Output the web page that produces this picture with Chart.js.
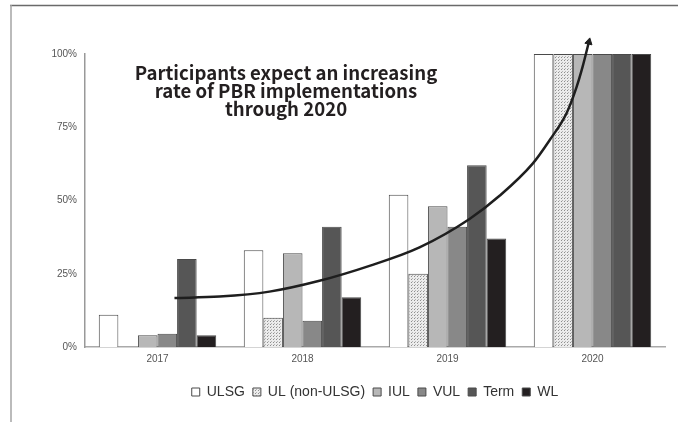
<!DOCTYPE html>
<html>
<head>
<meta charset="utf-8">
<script src="https://cdn.jsdelivr.net/npm/chart.js@4/dist/chart.umd.min.js"></script>
<style>
  html, body { margin: 0; padding: 0; background: #fff; }
  #wrap { width: 678px; height: 422px; position: relative; }
</style>
</head>
<body>
<div id="wrap"><canvas id="c"></canvas></div>
<script>
// Years on the horizontal axis
const years = ['2017', '2018', '2019', '2020'];

// Share of participants implementing PBR, per product (%)
const ulsg    = [11, 33, 52, 100];
const ulNon   = [0, 10, 25, 100];
const iul     = [4, 32, 48, 100];
const vul     = [4.5, 9, 41, 100];
const term    = [30, 41, 62, 100];
const wl      = [4, 17, 37, 100];

// Trend arrow path, in (year index, %) coordinates
const trendX = [0.117, 0.428, 0.772, 1.117, 1.462, 1.807, 2.152, 2.359, 2.586, 2.703, 2.821, 2.890, 2.931, 2.975];
const trendY = [16.7, 17.2, 18.9, 22.6, 27.7, 34.0, 43.7, 51.6, 62.5, 70.5, 79.8, 88.7, 95.5, 104.1];

const yTicks = [0, 25, 50, 75, 100];
const headline = ['Participants expect an increasing', 'rate of PBR implementations', 'through 2020'];

// Stippled fill for the UL (non-ULSG) series
function dotPattern() {
  const t = document.createElement('canvas');
  t.width = 3; t.height = 3;
  const g = t.getContext('2d');
  g.fillStyle = '#ececec';
  g.fillRect(0, 0, 3, 3);
  g.fillStyle = '#8e8e8e';
  g.fillRect(0, 0, 1, 1);
  g.fillStyle = '#b4b4b4';
  g.fillRect(1, 2, 1, 1);
  return g.createPattern(t, 'repeat');
}

const edge = '#4a4a4a';
function barSet(label, values, fill) {
  return {
    type: 'bar', label, order: 1,
    data: values.map((v, i) => ({ x: i, y: v })),
    backgroundColor: fill, borderColor: edge, borderWidth: 1,
    categoryPercentage: 0.81, barPercentage: 1.0
  };
}

const trendPts = trendX.map((x, i) => ({ x, y: trendY[i] }));
const last = trendPts.length - 1;

// Page frame and headline text
const decor = {
  id: 'decor',
  beforeDraw(chart) {
    const ctx = chart.ctx;
    ctx.save();
    ctx.fillStyle = '#fff';
    ctx.fillRect(0, 0, chart.width, chart.height);
    ctx.lineWidth = 1.5;
    ctx.strokeStyle = '#6a6a6a';
    ctx.beginPath(); ctx.moveTo(10, 5.5); ctx.lineTo(chart.width, 5.5); ctx.stroke();
    ctx.strokeStyle = '#a5a5a5';
    ctx.beginPath(); ctx.moveTo(11, 5); ctx.lineTo(11, chart.height); ctx.stroke();
    ctx.restore();
  },
  afterDraw(chart) {
    const ctx = chart.ctx;
    const a = chart.chartArea;
    ctx.save();
    ctx.fillStyle = '#231f20';
    ctx.font = 'bold 18.6px "Noto Sans CJK SC", "Noto Sans", sans-serif';
    ctx.textAlign = 'center';
    ctx.textBaseline = 'alphabetic';
    headline.forEach((s, i) => ctx.fillText(s, a.left + 201, a.top + 26 + i * 18));
    ctx.restore();
  }
};

new Chart(document.getElementById('c'), {
  type: 'bar',
  data: {
    datasets: [
      barSet('ULSG', ulsg, '#ffffff'),
      barSet('UL (non-ULSG)', ulNon, dotPattern()),
      barSet('IUL', iul, '#b7b7b7'),
      barSet('VUL', vul, '#888888'),
      barSet('Term', term, '#565656'),
      barSet('WL', wl, '#231f20'),
      {
        type: 'line', label: 'trend', data: trendPts, order: 0,
        borderColor: '#1e1e1e', borderWidth: 2.5, fill: false,
        cubicInterpolationMode: 'monotone', clip: false,
        pointRadius: trendPts.map((p, i) => i === last ? 4.2 : 0),
        // a larger hover radius keeps the arrowhead drawn just above the plot area
        pointHoverRadius: trendPts.map((p, i) => i === last ? 16 : 0),
        pointStyle: 'triangle', pointRotation: 13,
        pointBackgroundColor: '#1e1e1e', pointBorderColor: '#1e1e1e', pointBorderWidth: 1
      }
    ]
  },
  options: {
    responsive: true,
    maintainAspectRatio: false,
    animation: false,
    events: [],
    layout: { autoPadding: false, padding: { left: 0, right: 13, top: 54, bottom: 13 } },
    plugins: {
      legend: {
        position: 'bottom',
        fullSize: false,
        labels: {
          boxWidth: 8, boxHeight: 8, padding: 8,
          color: '#333', font: { family: '"Liberation Sans", Arial, sans-serif', size: 14 },
          filter: (item) => item.text !== 'trend',
          sort: (a, b) => a.datasetIndex - b.datasetIndex
        }
      },
      tooltip: { enabled: false }
    },
    scales: {
      x: {
        type: 'linear', min: -0.5, max: 3.5, offset: false,
        afterBuildTicks: (s) => { s.ticks = years.map((y, i) => ({ value: i })); },
        grid: { display: false, drawTicks: false },
        border: { display: true, color: '#aaaaaa', width: 1.5 },
        ticks: {
          color: '#555', padding: 6,
          font: { family: '"Liberation Sans", Arial, sans-serif', size: 10 },
          callback: (v) => years[v]
        },
        afterFit: (s) => { s.height = 30; }
      },
      y: {
        min: 0, max: 100,
        afterBuildTicks: (s) => { s.ticks = yTicks.map(v => ({ value: v })); },
        grid: { display: false, drawTicks: false },
        border: { display: true, color: '#999999', width: 1.5 },
        ticks: {
          color: '#555', padding: 8,
          font: { family: '"Liberation Sans", Arial, sans-serif', size: 10 },
          callback: (v) => v + '%'
        },
        afterFit: (s) => { s.width = 85; }
      }
    }
  },
  plugins: [decor]
});
</script>
</body>
</html>
